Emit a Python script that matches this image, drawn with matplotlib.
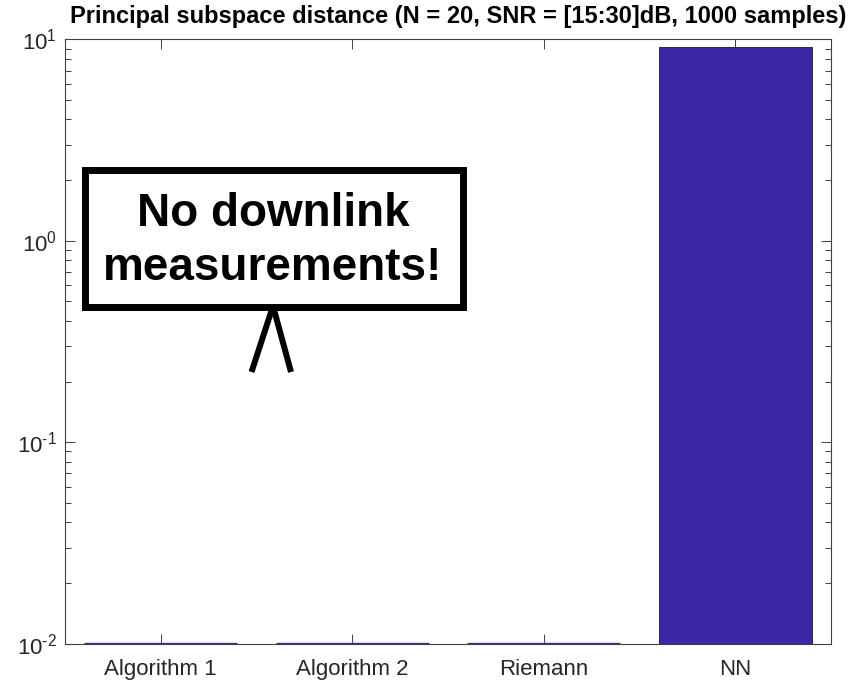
import numpy as np
import matplotlib
matplotlib.use("Agg")
import matplotlib.pyplot as plt
from matplotlib.patches import Rectangle
from matplotlib.lines import Line2D
from matplotlib.ticker import LogLocator, FuncFormatter, NullFormatter

plt.rcParams['font.family'] = ['Liberation Sans', 'DejaVu Sans']
plt.rcParams['mathtext.fontset'] = 'custom'
plt.rcParams['mathtext.rm'] = 'Liberation Sans'
plt.rcParams['mathtext.it'] = 'Liberation Sans:italic'
plt.rcParams['mathtext.bf'] = 'Liberation Sans:bold'
plt.rcParams['axes.unicode_minus'] = False

# Mean principal subspace distance per method
methods = ["Algorithm 1", "Algorithm 2", "Riemann", "NN"]
distance = [0.0, 0.0, 0.0, 9.2]

title = "Principal subspace distance (N = 20, SNR = [15:30]dB, 1000 samples)"
y_limits = (1e-2, 1e1)

W, H = 856, 685
fig = plt.figure(figsize=(W / 100, H / 100), dpi=100)
ax = fig.add_axes([65 / W, 1 - 643.7 / H, (831 - 65) / W, (643.7 - 39.3) / H])

bar_col = "#3E26A8"
x = np.arange(1, len(methods) + 1)
base = y_limits[0]
vals = np.array(distance)
tops = np.maximum(vals, base)
# bars that do not reach the lower limit collapse onto the baseline
flat = vals <= base
edge_cols = [bar_col if f else "#1a1a1a" for f in flat]
edge_w = [2.4 if f else 0.6 for f in flat]
ax.bar(x, tops - base, bottom=base, width=0.8, color=bar_col,
       edgecolor=edge_cols, linewidth=edge_w, zorder=2)

ax.set_yscale("log")
ax.set_ylim(*y_limits)
ax.set_xlim(0.5, len(methods) + 0.5)
ax.set_xticks(x)
ax.set_xticklabels(methods)


def pow10_label(v, pos):
    e = int(round(np.log10(v)))
    ex = r"\text{-}%d" % (-e) if e < 0 else "%d" % e
    return r"$\mathdefault{10^{%s}}$" % ex


ax.yaxis.set_major_locator(LogLocator(base=10, numticks=10))
ax.yaxis.set_major_formatter(FuncFormatter(pow10_label))
ax.yaxis.set_minor_locator(LogLocator(base=10, subs=np.arange(2, 10), numticks=10))
ax.yaxis.set_minor_formatter(NullFormatter())

axis_col = "#404040"
for s in ax.spines.values():
    s.set_color(axis_col)
    s.set_linewidth(0.8)
    s.set_zorder(3)
ax.tick_params(axis="both", which="both", direction="in", top=True, right=True,
               color=axis_col, width=0.7)
ax.tick_params(axis="both", which="major", length=7, labelcolor="#262626")
ax.tick_params(axis="x", which="major", labelsize=16, pad=11)
ax.tick_params(axis="y", which="major", labelsize=16, pad=6)
ax.tick_params(axis="y", which="minor", length=4)

fig.text(458 / W, 1 - 16 / H, title, ha="center", va="center",
         fontsize=17, fontweight="bold", color="black")

# Sign with two legs
def fx(px):
    return px / W

def fy(py):
    return 1 - py / H

lw_box = 5.0
fig.add_artist(Line2D([fx(273), fx(251.5)], [fy(306), fy(372)], color="black",
                      linewidth=4.3, transform=fig.transFigure, solid_capstyle="butt"))
fig.add_artist(Line2D([fx(273), fx(291)], [fy(306), fy(372)], color="black",
                      linewidth=4.3, transform=fig.transFigure, solid_capstyle="butt"))
fig.add_artist(Rectangle((fx(84.5), fy(306.5)), fx(463) - fx(84.5), fy(170.5) - fy(306.5),
                         transform=fig.transFigure, facecolor="white", edgecolor="black",
                         linewidth=lw_box, zorder=5))
fig.text(fx(273), fy(214), "No downlink", ha="center", va="center", fontsize=33,
         fontweight="bold", zorder=6)
fig.text(fx(273), fy(268), "measurements!", ha="center", va="center", fontsize=33,
         fontweight="bold", zorder=6)

fig.savefig("out.png", dpi=100, facecolor="white")
